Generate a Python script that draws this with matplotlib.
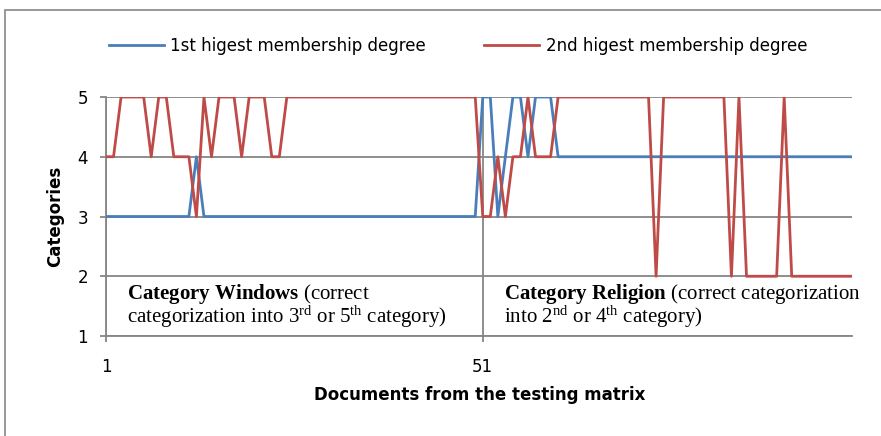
import matplotlib
matplotlib.use("Agg")
import matplotlib.pyplot as plt
from matplotlib.patches import Rectangle

# documents 1..100 from the testing matrix
docs = list(range(1, 101))

first_degree = [
    3, 3, 3, 3, 3, 3, 3, 3, 3, 3,
    3, 3, 4, 3, 3, 3, 3, 3, 3, 3,
    3, 3, 3, 3, 3, 3, 3, 3, 3, 3,
    3, 3, 3, 3, 3, 3, 3, 3, 3, 3,
    3, 3, 3, 3, 3, 3, 3, 3, 3, 3,
    5, 5, 3, 4, 5, 5, 4, 5, 5, 5,
    4, 4, 4, 4, 4, 4, 4, 4, 4, 4,
    4, 4, 4, 4, 4, 4, 4, 4, 4, 4,
    4, 4, 4, 4, 4, 4, 4, 4, 4, 4,
    4, 4, 4, 4, 4, 4, 4, 4, 4, 4,
]

second_degree = [
    4, 4, 5, 5, 5, 5, 4, 5, 5, 4,
    4, 4, 3, 5, 4, 5, 5, 5, 4, 5,
    5, 5, 4, 4, 5, 5, 5, 5, 5, 5,
    5, 5, 5, 5, 5, 5, 5, 5, 5, 5,
    5, 5, 5, 5, 5, 5, 5, 5, 5, 5,
    3, 3, 4, 3, 4, 4, 5, 4, 4, 4,
    5, 5, 5, 5, 5, 5, 5, 5, 5, 5,
    5, 5, 5, 2, 5, 5, 5, 5, 5, 5,
    5, 5, 5, 2, 5, 2, 2, 2, 2, 2,
    5, 2, 2, 2, 2, 2, 2, 2, 2, 2,
]

series_names = ["1st higest membership degree", "2nd higest membership degree"]
x_ticks = [1, 51]
y_ticks = [1, 2, 3, 4, 5]

sans = "DejaVu Sans"
serif = "Liberation Serif"
plt.rcParams["mathtext.fontset"] = "custom"
plt.rcParams["mathtext.rm"] = "Liberation Serif"
plt.rcParams["mathtext.bf"] = "Liberation Serif:bold"
plt.rcParams["mathtext.it"] = "Liberation Serif:italic"

grid_col = "#868686"
W, H = 881, 436
fig = plt.figure(figsize=(W / 100, H / 100), dpi=100)

# outer chart border (only top and left visible)
fig.patches.append(Rectangle((5 / W, -0.1), 1.2, 1 - 10 / H + 0.1, transform=fig.transFigure,
                             fill=False, edgecolor=grid_col, linewidth=1.2))

ax = fig.add_axes([106 / W, 1 - 336 / H, (852 - 106) / W, (336 - 97) / H])
ax.plot(docs, first_degree, color="#4A7EBB", linewidth=2, label=series_names[0], zorder=3)
ax.plot(docs, second_degree, color="#BE4B48", linewidth=2, label=series_names[1], zorder=3)

ax.set_xlim(1, 100)
ax.set_ylim(1, 5)
ax.set_xticks(x_ticks)
ax.set_yticks(y_ticks)
ax.grid(True, color=grid_col, linewidth=1.3)
ax.set_axisbelow(True)
for side in ["top", "right"]:
    ax.spines[side].set_visible(False)
for side in ["left", "bottom"]:
    ax.spines[side].set_color(grid_col)
    ax.spines[side].set_linewidth(1.3)
ax.tick_params(axis="both", color=grid_col, length=4, width=1.3, labelsize=12)
ax.tick_params(axis="x", pad=12)
ax.tick_params(axis="y", pad=9)
for lab in ax.get_xticklabels() + ax.get_yticklabels():
    lab.set_family(sans)

ax.set_xlabel("Documents from the testing matrix", fontsize=12, fontweight="bold", family=sans)
ax.xaxis.set_label_coords((480 - 106) / (852 - 106), -(386 - 336) / (336 - 97))
ax.set_ylabel("Categories", fontsize=12, fontweight="bold", family=sans)
ax.yaxis.set_label_coords(-(106 - 64) / (852 - 106), 0.5)

ax.text(3.8, 1.62, r"$\mathbf{Category\ Windows}$ (correct", fontsize=15, family=serif, va="baseline")
ax.text(3.8, 1.22, r"categorization into 3$^{\mathrm{rd}}$ or 5$^{\mathrm{th}}$ category)",
        fontsize=15, family=serif, va="baseline")
ax.text(53.8, 1.62, r"$\mathbf{Category\ Religion}$ (correct categorization", fontsize=15,
        family=serif, va="baseline")
ax.text(53.8, 1.22, r"into 2$^{\mathrm{nd}}$ or 4$^{\mathrm{th}}$ category)", fontsize=15,
        family=serif, va="baseline")

fig.legend(loc="center", bbox_to_anchor=(458 / W, 1 - 46 / H), ncol=2, frameon=False,
           prop={"family": sans, "size": 12}, handlelength=3.3, handletextpad=0.4,
           columnspacing=3.5)

fig.savefig("out.png", dpi=100)
